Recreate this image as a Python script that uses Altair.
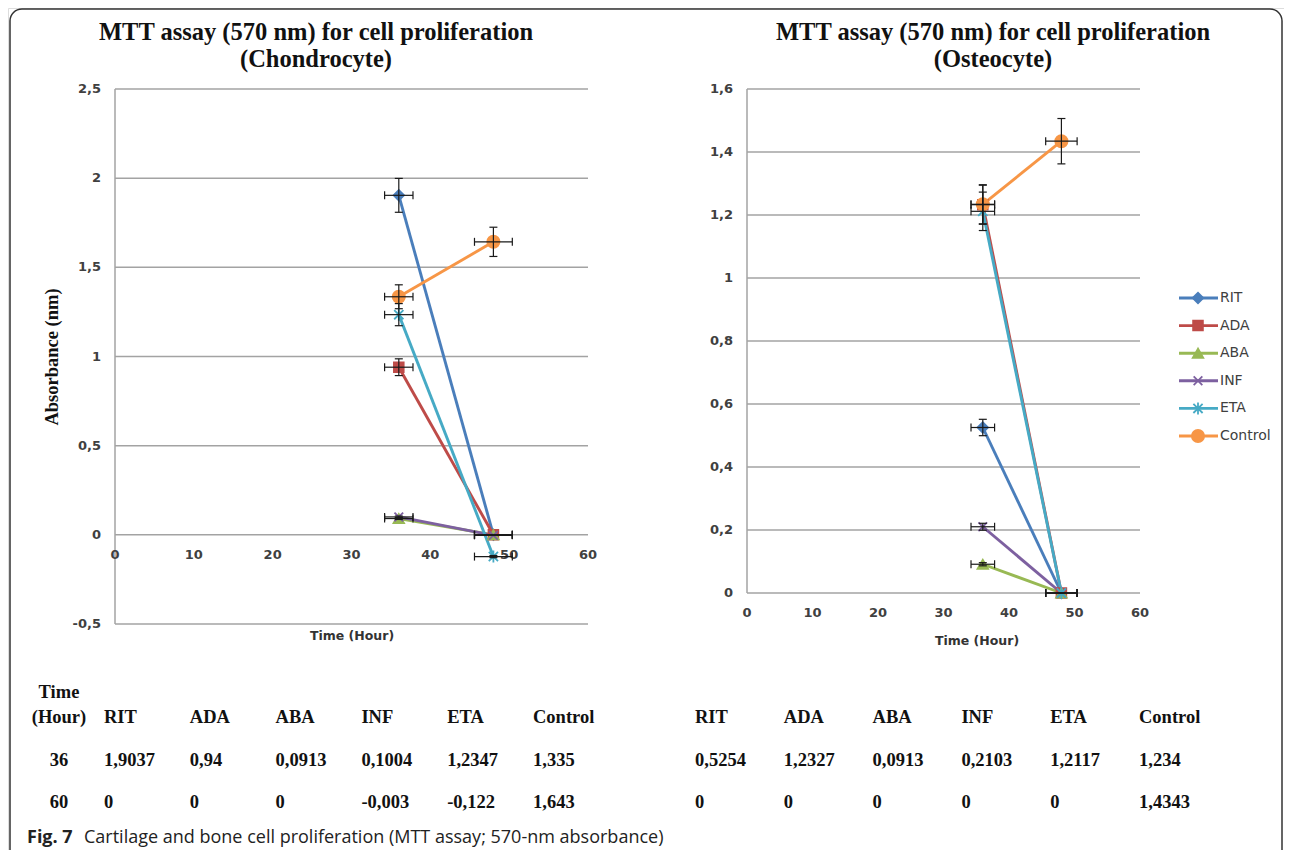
import altair as alt
import pandas as pd

# ---------------- data ----------------
series = ["RIT", "ADA", "ABA", "INF", "ETA", "Control"]
time_plot = [36, 48]          # x positions of the two measurements as plotted
time_err = [1.8, 2.4]         # horizontal error bars (hours)

chondro_36 = [1.9037, 0.94, 0.0913, 0.1004, 1.2347, 1.335]
chondro_60 = [0, 0, 0, -0.003, -0.122, 1.643]
chondro_err_36 = [0.095, 0.047, 0.005, 0.005, 0.062, 0.067]
chondro_err_60 = [0, 0, 0, 0, 0.006, 0.082]

osteo_36 = [0.5254, 1.2327, 0.0913, 0.2103, 1.2117, 1.234]
osteo_60 = [0, 0, 0, 0, 0, 1.4343]
osteo_err_36 = [0.026, 0.062, 0.005, 0.011, 0.061, 0.062]
osteo_err_60 = [0, 0, 0, 0, 0, 0.072]

chondro_yticks = [-0.5, 0, 0.5, 1, 1.5, 2, 2.5]
chondro_ylabels = ["-0,5", "0", "0,5", "1", "1,5", "2", "2,5"]
osteo_yticks = [0, 0.2, 0.4, 0.6, 0.8, 1.0, 1.2, 1.4, 1.6]
osteo_ylabels = ["0", "0,2", "0,4", "0,6", "0,8", "1", "1,2", "1,4", "1,6"]
xticks = [0, 10, 20, 30, 40, 50, 60]
xlabels = ["0", "10", "20", "30", "40", "50", "60"]

table_header = ["RIT", "ADA", "ABA", "INF", "ETA", "Control"]
table_times = ["36", "60"]
chondro_row_36 = ["1,9037", "0,94", "0,0913", "0,1004", "1,2347", "1,335"]
chondro_row_60 = ["0", "0", "0", "-0,003", "-0,122", "1,643"]
osteo_row_36 = ["0,5254", "1,2327", "0,0913", "0,2103", "1,2117", "1,234"]
osteo_row_60 = ["0", "0", "0", "0", "0", "1,4343"]

# ---------------- styles ----------------
colors = ["#4a7ebb", "#be4b48", "#98b954", "#7d60a0", "#46aac5", "#f79646"]
X_PATH = "M-1,-1L1,1M1,-1L-1,1"
STAR_PATH = "M-1,-1L1,1M1,-1L-1,1M0,-1.3L0,1.3"
shapes = ["diamond", "square", "triangle-up", X_PATH, STAR_PATH, "circle"]
marker_sizes = [110, 95, 110, 75, 85, 150]
GRID = "#a3a3a3"
TICK_FONT = "DejaVu Sans"
SERIF = "Liberation Serif"
SANS = "Open Sans"

cscale = alt.Scale(domain=series, range=colors)
sscale = alt.Scale(domain=series, range=shapes)


def long_df(v36, v60, e36, e60):
    rows = []
    for i, s in enumerate(series):
        for k, (v, e) in enumerate([(v36[i], e36[i]), (v60[i], e60[i])]):
            t = time_plot[k]
            rows.append(dict(series=s, t=t, v=v, lo=v - e, hi=v + e,
                             tlo=t - time_err[k], thi=t + time_err[k],
                             sz=marker_sizes[i]))
    return pd.DataFrame(rows)


def panel(xs, ys, v36, v60, e36, e60, yticks, ylabels):
    df = long_df(v36, v60, e36, e60)
    X = lambda f: alt.X(f, scale=xs, axis=None)
    Y = lambda f: alt.Y(f, scale=ys, axis=None)
    layers = []
    grid = pd.DataFrame({"y": yticks, "x0": 0, "x1": 60})
    layers.append(alt.Chart(grid).mark_rule(color=GRID, strokeWidth=1.5).encode(
        x=X("x0:Q"), x2="x1:Q", y=Y("y:Q")))
    ax = pd.DataFrame({"x": [0], "y0": [min(yticks)], "y1": [max(yticks)]})
    layers.append(alt.Chart(ax).mark_rule(color=GRID, strokeWidth=1.5).encode(
        x=X("x:Q"), y=Y("y0:Q"), y2="y1:Q"))
    yl = pd.DataFrame({"y": yticks, "lab": ylabels, "x": 0})
    layers.append(alt.Chart(yl).mark_text(
        align="right", baseline="middle", dx=-14, font=TICK_FONT, fontSize=13,
        fontWeight="bold", color="#404040").encode(x=X("x:Q"), y=Y("y:Q"), text="lab:N"))
    xl = pd.DataFrame({"x": xticks, "lab": xlabels, "y": 0})
    layers.append(alt.Chart(xl).mark_text(
        align="center", baseline="middle", dy=20, font=TICK_FONT, fontSize=13,
        fontWeight="bold", color="#404040").encode(x=X("x:Q"), y=Y("y:Q"), text="lab:N"))
    # lines
    layers.append(alt.Chart(df).mark_line(strokeWidth=2.9).encode(
        x=X("t:Q"), y=Y("v:Q"),
        color=alt.Color("series:N", scale=cscale, legend=None)))
    # markers
    layers.append(alt.Chart(df).mark_point(filled=True, opacity=1, strokeWidth=1.8).encode(
        x=X("t:Q"), y=Y("v:Q"),
        fill=alt.Fill("series:N", scale=cscale, legend=None),
        stroke=alt.Stroke("series:N", scale=cscale, legend=None),
        shape=alt.Shape("series:N", scale=sscale, legend=None),
        size=alt.Size("sz:Q", scale=None)))
    # error bars
    eb = dict(color="#1a1a1a", strokeWidth=1.2)
    layers.append(alt.Chart(df).mark_rule(**eb).encode(x=X("t:Q"), y=Y("lo:Q"), y2="hi:Q"))
    layers.append(alt.Chart(df).mark_rule(xOffset=-4, x2Offset=4, **eb).encode(
        x=X("t:Q"), x2="t:Q", y=Y("hi:Q")))
    layers.append(alt.Chart(df).mark_rule(xOffset=-4, x2Offset=4, **eb).encode(
        x=X("t:Q"), x2="t:Q", y=Y("lo:Q")))
    layers.append(alt.Chart(df).mark_rule(**eb).encode(x=X("tlo:Q"), x2="thi:Q", y=Y("v:Q")))
    layers.append(alt.Chart(df).mark_rule(yOffset=-4, y2Offset=4, **eb).encode(
        x=X("tlo:Q"), y=Y("v:Q"), y2="v:Q"))
    layers.append(alt.Chart(df).mark_rule(yOffset=-4, y2Offset=4, **eb).encode(
        x=X("thi:Q"), y=Y("v:Q"), y2="v:Q"))
    return layers


L_X = alt.Scale(domain=[0, 60], range=[107, 580], nice=False, zero=False)
L_Y = alt.Scale(domain=[-0.5, 2.5], range=[616, 81], nice=False, zero=False)
R_X = alt.Scale(domain=[0, 60], range=[739, 1132], nice=False, zero=False)
R_Y = alt.Scale(domain=[0, 1.6], range=[585, 81], nice=False, zero=False)

layers = []
one = pd.DataFrame({"a": [0]})

# frame
layers.append(alt.Chart(one).mark_rect(fill="transparent", stroke="#333333", strokeWidth=1.5,
                                       cornerRadius=12).encode(
    x=alt.value(2), x2=alt.value(1274), y=alt.value(1), y2=alt.value(880)))

layers += panel(L_X, L_Y, chondro_36, chondro_60, chondro_err_36, chondro_err_60,
                chondro_yticks, chondro_ylabels)
layers += panel(R_X, R_Y, osteo_36, osteo_60, osteo_err_36, osteo_err_60,
                osteo_yticks, osteo_ylabels)


def txt(text, x, y, **kw):
    base = dict(align="center", baseline="middle", color="#111111")
    base.update(kw)
    return alt.Chart(one).mark_text(text=text, **base).encode(x=alt.value(x), y=alt.value(y))


title_kw = dict(font=SERIF, fontSize=24.5, fontWeight="bold")
layers.append(txt("MTT assay (570 nm) for cell proliferation", 308, 25, **title_kw))
layers.append(txt("(Chondrocyte)", 308, 52, **title_kw))
layers.append(txt("MTT assay (570 nm) for cell proliferation", 985, 25, **title_kw))
layers.append(txt("(Osteocyte)", 985, 52, **title_kw))
layers.append(txt("Absorbance (nm)", 44, 349, font=SERIF, fontSize=18.5, fontWeight="bold", angle=270))
layers.append(txt("Time (Hour)", 344, 628, font=TICK_FONT, fontSize=12.5, fontWeight="bold", color="#333333"))
layers.append(txt("Time (Hour)", 969, 633, font=TICK_FONT, fontSize=12.5, fontWeight="bold", color="#333333"))

# legend
leg = pd.DataFrame({"series": series, "sz": marker_sizes})
LEG_Y = alt.Y("series:N", scale=alt.Scale(type="point", domain=series, range=[290, 428], padding=0), axis=None)
layers.append(alt.Chart(leg).mark_rule(strokeWidth=2.9).encode(
    x=alt.value(1171), x2=alt.value(1210), y=LEG_Y,
    color=alt.Color("series:N", scale=cscale, legend=None)))
layers.append(alt.Chart(leg).mark_point(filled=True, opacity=1, strokeWidth=1.8).encode(
    x=alt.value(1190), y=LEG_Y,
    fill=alt.Fill("series:N", scale=cscale, legend=None),
    stroke=alt.Stroke("series:N", scale=cscale, legend=None),
    shape=alt.Shape("series:N", scale=sscale, legend=None),
    size=alt.Size("sz:Q", scale=None)))
layers.append(alt.Chart(leg).mark_text(align="left", baseline="middle", font=TICK_FONT, fontSize=14,
                                       color="#404040").encode(
    x=alt.value(1212), y=LEG_Y, text="series:N"))

# tables
TBL_Y = alt.Scale(domain=[0, 2], range=[709, 794], nice=False, zero=False)
tbl_kw = dict(font=SERIF, fontSize=18.5, fontWeight="bold", color="#111111", baseline="middle")


def table(xr, row36, row60):
    rows = []
    for c in range(6):
        rows.append(dict(c=c + 1, r=0, s=table_header[c]))
        rows.append(dict(c=c + 1, r=1, s=row36[c]))
        rows.append(dict(c=c + 1, r=2, s=row60[c]))
    d = pd.DataFrame(rows)
    return alt.Chart(d).mark_text(align="left", **tbl_kw).encode(
        x=alt.X("c:Q", scale=alt.Scale(domain=[1, 6], range=xr, nice=False, zero=False), axis=None),
        y=alt.Y("r:Q", scale=TBL_Y, axis=None), text="s:N")


layers.append(table([96, 525], chondro_row_36, chondro_row_60))
layers.append(table([687, 1131], osteo_row_36, osteo_row_60))
first = pd.DataFrame({"r": [-0.6, 0, 1, 2], "s": ["Time", "(Hour)"] + table_times})
layers.append(alt.Chart(first).mark_text(align="center", **tbl_kw).encode(
    x=alt.value(51), y=alt.Y("r:Q", scale=TBL_Y, axis=None), text="s:N"))

# caption
layers.append(txt("Fig. 7", 19, 830, align="left", font=SANS, fontSize=18, fontWeight="bold", color="#222222"))
layers.append(txt("Cartilage and bone cell proliferation (MTT assay; 570-nm absorbance)", 76, 830,
                  align="left", font=SANS, fontSize=18, color="#222222"))

chart = alt.layer(*layers).resolve_scale(
    x="independent", y="independent", color="independent", fill="independent",
    stroke="independent", shape="independent"
).properties(
    width=1276, height=842, padding=0,
    autosize=alt.AutoSizeParams(type="none"),
).configure_view(stroke=None).configure(background="white")

chart.save("out.html", embed_options={"renderer": "svg", "actions": False})
